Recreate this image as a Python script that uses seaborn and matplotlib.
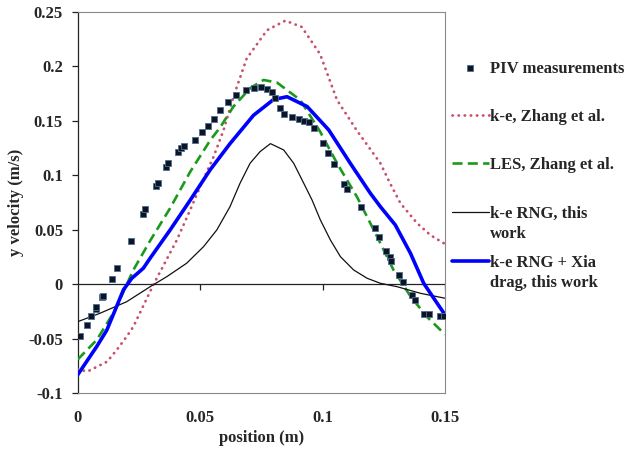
import matplotlib
matplotlib.use("Agg")
import matplotlib.pyplot as plt
from matplotlib.ticker import FixedLocator
import seaborn as sns

# ---------------- data ----------------
piv_x = [0.0008, 0.0037, 0.0053, 0.0073, 0.0076, 0.0101, 0.0105, 0.0139, 0.0160, 0.0218,
         0.0268, 0.0275, 0.0320, 0.0327, 0.0361, 0.0369, 0.0409, 0.0420, 0.0436, 0.0481,
         0.0508, 0.0534, 0.0555, 0.0582, 0.0613, 0.0647, 0.0687, 0.0721, 0.0749, 0.0773,
         0.0793, 0.0804, 0.0827, 0.0842, 0.0875, 0.0902, 0.0926, 0.0943, 0.0964, 0.1002,
         0.1022, 0.1048, 0.1086, 0.1100, 0.1155, 0.1213, 0.1231, 0.1261, 0.1274, 0.1281,
         0.1311, 0.1330, 0.1365, 0.1379, 0.1416, 0.1434, 0.1479, 0.1495]
piv_y = [-0.047, -0.037, -0.029, -0.023, -0.021, -0.012, -0.0105, 0.005, 0.015, 0.040,
         0.0645, 0.069, 0.090, 0.093, 0.108, 0.1116, 0.1217, 0.1248, 0.127, 0.132,
         0.1394, 0.1455, 0.1514, 0.160, 0.1672, 0.1734, 0.1783, 0.1804, 0.1813, 0.179,
         0.176, 0.171, 0.162, 0.1565, 0.153, 0.1517, 0.150, 0.1486, 0.1437, 0.130,
         0.120, 0.110, 0.0917, 0.087, 0.0706, 0.0514, 0.0431, 0.0306, 0.0253, 0.0214,
         0.0085, 0.0024, -0.0098, -0.0144, -0.0272, -0.0272, -0.0288, -0.0288]

ke_zhang_x = [0.0, 0.004, 0.012, 0.016, 0.020, 0.0227, 0.031, 0.0405, 0.0459, 0.050,
              0.0555, 0.0596, 0.0636, 0.069, 0.0773, 0.0848, 0.0915, 0.099, 0.1059, 0.114,
              0.1236, 0.1277, 0.1318, 0.1386, 0.1441, 0.150]
ke_zhang_y = [-0.078, -0.080, -0.071, -0.060, -0.048, -0.039, 0.0, 0.0406, 0.068, 0.0895,
              0.117, 0.1416, 0.172, 0.207, 0.233, 0.2418, 0.236, 0.211, 0.169, 0.141,
              0.111, 0.092, 0.0743, 0.056, 0.045, 0.037]

les_zhang_x = [0.0, 0.0078, 0.0153, 0.0227, 0.0296, 0.0378, 0.0459, 0.0541, 0.0582, 0.0636,
               0.0705, 0.0759, 0.0814, 0.0909, 0.099, 0.1059, 0.1141, 0.1222, 0.129, 0.1359,
               0.1427, 0.150]
les_zhang_y = [-0.069, -0.051, -0.0236, 0.013, 0.040, 0.070, 0.103, 0.132, 0.1440, 0.163,
               0.180, 0.1874, 0.185, 0.169, 0.140, 0.111, 0.080, 0.044, 0.013, -0.011,
               -0.030, -0.046]

rng_x = [0.0, 0.0091, 0.020, 0.0296, 0.0364, 0.0445, 0.0514, 0.0568, 0.0622, 0.0663,
         0.0704, 0.0745, 0.0787, 0.0841, 0.0882, 0.0923, 0.0957, 0.0991, 0.1032, 0.1073,
         0.1127, 0.1182, 0.1236, 0.1304, 0.140, 0.150]
rng_y = [-0.0343, -0.0266, -0.016, -0.0022, 0.007, 0.0193, 0.0345, 0.0498, 0.0712, 0.0927,
         0.111, 0.1217, 0.1290, 0.1232, 0.111, 0.0927, 0.0773, 0.059, 0.0406, 0.0253,
         0.0131, 0.0055, 0.0009, -0.0022, -0.0083, -0.0128]

xia_x = [0.0, 0.0078, 0.0119, 0.0153, 0.0187, 0.0221, 0.0268, 0.0296, 0.0378, 0.0459,
         0.0541, 0.0622, 0.0718, 0.080, 0.0855, 0.0937, 0.1025, 0.1113, 0.1195, 0.1236,
         0.1297, 0.1359, 0.1413, 0.1454, 0.150]
xia_y = [-0.083, -0.057, -0.042, -0.0236, -0.005, 0.0055, 0.0147, 0.024, 0.050, 0.077,
         0.105, 0.129, 0.155, 0.1695, 0.172, 0.163, 0.1416, 0.111, 0.0835, 0.0712,
         0.0544, 0.0284, 0.0009, -0.0128, -0.028]

x_ticks = [0.0, 0.05, 0.10, 0.15]
x_tick_labels = ["0", "0.05", "0.1", "0.15"]
y_ticks = [-0.1, -0.05, 0.0, 0.05, 0.1, 0.15, 0.2, 0.25]
y_tick_labels = ["-0.1", "-0.05", "0", "0.05", "0.1", "0.15", "0.2", "0.25"]

labels = ["PIV measurements", "k-e, Zhang et al.", "LES, Zhang et al.",
          "k-e RNG, this\nwork", "k-e RNG + Xia\ndrag, this work"]

# ---------------- style ----------------
sns.set_theme(style="white")
plt.rcParams["font.family"] = ["Liberation Serif", "DejaVu Serif"]
plt.rcParams["font.weight"] = "bold"
plt.rcParams["axes.labelweight"] = "bold"

fig = plt.figure(figsize=(6.3, 4.5), dpi=100)
ax = fig.add_axes([77.7 / 630, 1 - 393.3 / 450, (445 - 77.7) / 630, (393.3 - 11.7) / 450])

# zero line with its small ticks
ax.axhline(0, color="#222222", lw=0.9, zorder=1)
ax.plot(x_ticks[1:], [0] * 3, linestyle="none", marker=3, markersize=4,
        markeredgewidth=0.9, color="#222222", zorder=1)

sns.scatterplot(x=piv_x, y=piv_y, ax=ax, marker="s", s=24, color="#0d1424",
                edgecolor="#4f6f92", linewidth=0.6, label=labels[0], zorder=5)
sns.lineplot(x=ke_zhang_x, y=ke_zhang_y, ax=ax, color="#c9506a", lw=2.0,
             linestyle=(0, (0.1, 2.1)), dash_capstyle="round", label=labels[1], zorder=3)
sns.lineplot(x=les_zhang_x, y=les_zhang_y, ax=ax, color="#1a9a1a", lw=1.9,
             linestyle=(0, (3.8, 2.0)), label=labels[2], zorder=3)
sns.lineplot(x=rng_x, y=rng_y, ax=ax, color="#111111", lw=0.9,
             label=labels[3], zorder=3)
sns.lineplot(x=xia_x, y=xia_y, ax=ax, color="#0000ff", lw=2.6,
             label=labels[4], zorder=4)

ax.set_xlim(0, 0.15)
ax.set_ylim(-0.1, 0.25)
ax.xaxis.set_major_locator(FixedLocator(x_ticks))
ax.yaxis.set_major_locator(FixedLocator(y_ticks))
ax.set_xticklabels(x_tick_labels)
ax.set_yticklabels(y_tick_labels)
ax.tick_params(axis="x", length=0, pad=12, labelsize=12)
ax.tick_params(axis="y", left=True, length=4.5, width=0.9, color="#222222",
               pad=6, labelsize=12, direction="out")
for lab in ax.get_xticklabels() + ax.get_yticklabels():
    lab.set_fontweight("bold")

ax.set_xlabel("position (m)", fontsize=12, fontweight="bold", labelpad=3)
ax.set_ylabel("y velocity (m/s)", fontsize=12, fontweight="bold")
ax.yaxis.set_label_coords(-0.147, 0.5)

for side in ["top", "right", "bottom"]:
    ax.spines[side].set_color("#8a8a8a")
    ax.spines[side].set_linewidth(0.8)
ax.spines["left"].set_color("#222222")
ax.spines["left"].set_linewidth(0.9)

handles, labs = ax.get_legend_handles_labels()
if ax.legend_ is not None:
    ax.legend_.remove()

prop = {"family": "Liberation Serif", "weight": "bold", "size": 12}
leg1 = fig.legend(handles[:3], labs[:3], loc="upper left",
                  bbox_to_anchor=(452 / 630, 1 - 61 / 450), frameon=False, prop=prop,
                  handlelength=2.2, handletextpad=0.1, labelspacing=1.92,
                  borderpad=0, borderaxespad=0, scatterpoints=1)
leg2 = fig.legend(handles[3:], labs[3:], loc="upper left",
                  bbox_to_anchor=(452 / 630, 1 - 206 / 450), frameon=False, prop=prop,
                  handlelength=2.2, handletextpad=0.1, labelspacing=0.8,
                  borderpad=0, borderaxespad=0)
for t in leg2.get_texts():
    t.set_linespacing(1.3)
for leg in (leg1, leg2):
    for vp in leg._legend_handle_box.get_children():
        for hp in vp.get_children():
            hp.align = "top"

fig.savefig("out.png", dpi=100, facecolor="white")
